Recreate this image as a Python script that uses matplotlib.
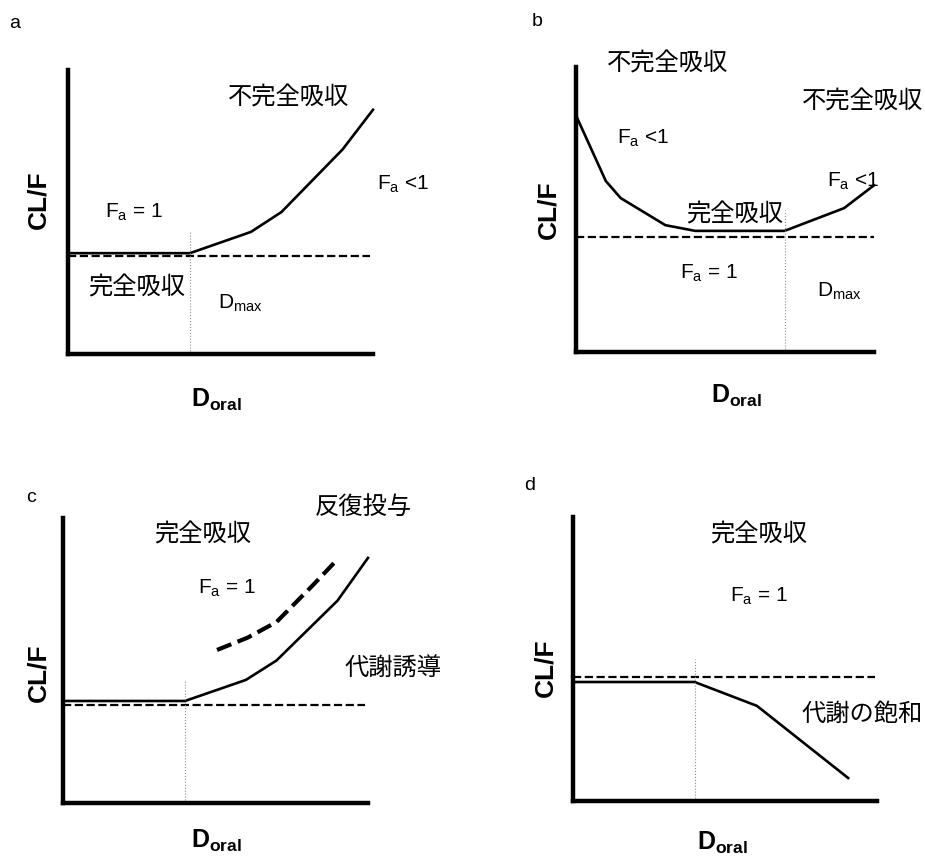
import matplotlib
matplotlib.use('Agg')
import matplotlib.pyplot as plt

plt.rcParams['font.family'] = ['Liberation Sans', 'Noto Sans CJK JP', 'DejaVu Sans']
plt.rcParams['mathtext.fontset'] = 'custom'
plt.rcParams['mathtext.rm'] = 'Liberation Sans'
plt.rcParams['mathtext.bf'] = 'Liberation Sans:bold'

W, H = 925, 858

# curves, dose and CL/F both on a 0-10 scale
a_x = [0, 4, 6, 7, 9, 10]
a_y = [3.55, 3.55, 4.3, 5.0, 7.2, 8.6]
a_base = 3.45
a_dmax = 4.0

b_x = [0, 1, 1.5, 3, 4, 7, 9, 10]
b_y = [8.3, 6.0, 5.4, 4.45, 4.25, 4.25, 5.05, 5.85]
b_base = 4.05
b_dmax = 7.0

c_x = [0, 4, 6, 7, 9, 10]
c_y = [3.58, 3.58, 4.32, 5.0, 7.1, 8.6]
c_rep_x = [5.05, 6.05, 7.0, 8.2, 9.0]
c_rep_y = [5.37, 5.8, 6.35, 7.65, 8.55]
c_base = 3.44
c_dmax = 4.0

d_x = [0, 4, 6.05, 9.05]
d_y = [4.19, 4.19, 3.35, 0.81]
d_base = 4.37
d_dmax = 4.0

JP = 17.5  # size of the japanese labels

fig = plt.figure(figsize=(W / 100, H / 100), dpi=100)


def px(x, y):
    return x / W, 1 - y / H


def make_axes(left, top, right, bottom):
    ax = fig.add_axes([left / W, 1 - bottom / H, (right - left) / W, (bottom - top) / H])
    ax.set_xlim(0, 10)
    ax.set_ylim(0, 10)
    for s in ['top', 'right']:
        ax.spines[s].set_visible(False)
    for s in ['left', 'bottom']:
        ax.spines[s].set_linewidth(3.2)
        ax.spines[s].set_capstyle('projecting')
    ax.set_xticks([])
    ax.set_yticks([])
    ax.patch.set_alpha(0)
    return ax


def base_line(ax, y, x_end=9.9):
    ax.plot([0, x_end], [y, y], color='black', lw=1.6, ls='--', clip_on=False)


def dmax_line(ax, x, y_top):
    ax.plot([x, x], [0, y_top], color='0.55', lw=0.8, ls=':', clip_on=False)


def txt(x, y, s, size=JP, ha='center', **kw):
    fig.text(*px(x, y), s, fontsize=size, ha=ha, va='center', **kw)


def axis_labels(xl, yl, xd, yd):
    fig.text(*px(xl, yl), 'CL/F', fontsize=19, fontweight='bold', rotation=90,
             ha='center', va='center')
    fig.text(*px(xd, yd), r'D$_{\mathbf{oral}}$', fontsize=18, fontweight='bold',
             ha='center', va='center')


FA1 = r'F$_{\mathrm{a}}$ = 1'
FAL = r'F$_{\mathrm{a}}$ <1'
DMX = r'D$_{\mathrm{max}}$'

# a
ax = make_axes(68, 70, 373, 354)
ax.plot(a_x, a_y, color='black', lw=1.9, clip_on=False)
base_line(ax, a_base)
dmax_line(ax, a_dmax, 4.3)
txt(15, 23, 'a', 14)
txt(289, 98, '不完全吸収')
txt(377, 184, FAL, 15, ha='left')
txt(105, 212, FA1, 15, ha='left')
txt(137, 288, '完全吸収')
txt(218, 303, DMX, 15, ha='left')
axis_labels(38, 200, 217, 400)

# b
ax = make_axes(576, 67, 874, 352)
ax.plot(b_x, b_y, color='black', lw=1.9, clip_on=False)
base_line(ax, b_base, 10)
dmax_line(ax, b_dmax, 5.0)
txt(537, 22, 'b', 14)
txt(668, 64, '不完全吸収')
txt(863, 102, '不完全吸収')
txt(617, 138, FAL, 15, ha='left')
txt(827, 181, FAL, 15, ha='left')
txt(735, 215, '完全吸収')
txt(680, 273, FA1, 15, ha='left')
txt(817, 291, DMX, 15, ha='left')
axis_labels(548, 210, 737, 396)

# c
ax = make_axes(63, 518, 368, 803)
ax.plot(c_x, c_y, color='black', lw=1.9, clip_on=False)
ax.plot(c_rep_x, c_rep_y, color='black', lw=3.0, ls='--', clip_on=False)
base_line(ax, c_base)
dmax_line(ax, c_dmax, 4.32)
txt(31, 497, 'c', 14)
txt(363, 507, '反復投与')
txt(203, 535, '完全吸収')
txt(198, 588, FA1, 15, ha='left')
txt(393, 668, '代謝誘導')
axis_labels(38, 673, 217, 841)

# d
ax = make_axes(573, 517, 877, 801)
ax.plot(d_x, d_y, color='black', lw=1.9, clip_on=False)
base_line(ax, d_base, 9.93)
dmax_line(ax, d_dmax, 5.0)
txt(530, 485, 'd', 14)
txt(759, 535, '完全吸収')
txt(730, 596, FA1, 15, ha='left')
txt(862, 715, '代謝の飽和')
axis_labels(545, 668, 723, 843)

fig.savefig('out.png', dpi=100)
